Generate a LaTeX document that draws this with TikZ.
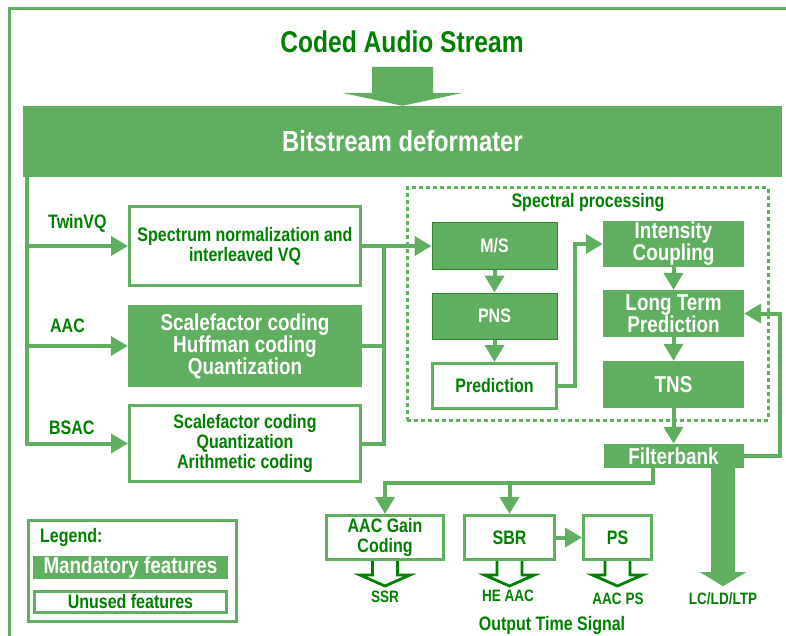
\documentclass[tikz,border=0pt]{standalone}
\usepackage{fontspec}
\setmainfont{Liberation Sans}[FakeStretch=0.82]
\usepackage{tikz}
\usetikzlibrary{
    arrows.meta,
    calc,
    positioning
}
\definecolor{boxgreen}{RGB}{96,175,96}
\definecolor{txtgreen}{RGB}{0,128,0}
\definecolor{edgegreen}{RGB}{45,135,45}
\newcommand{\fsize}[2]{\fontsize{#1}{#2}\selectfont}
\tikzset{
    box/.style={inner sep=0pt, align=center, font=\bfseries\fsize{19.5}{20}},
    fullbox/.style={box, fill=boxgreen, text=white},
    emptybox/.style={box, draw=boxgreen, line width=3pt, fill=white, text=txtgreen},
    bigtext/.style={font=\bfseries\fsize{23}{22}},
    tag/.style={inner sep=0pt, text=txtgreen, font=\bfseries\fsize{19.5}{20}},
    smalltag/.style={inner sep=0pt, text=txtgreen, font=\bfseries\fsize{16.5}{17}},
    wire/.style={draw=boxgreen, line width=4pt},
    flow/.style={wire, -{Triangle[length=17pt, width=19pt]}},
    hollow/.style={draw=txtgreen, line width=2.8pt, fill=white},
    specframe/.style={draw=boxgreen, line width=3pt, dash pattern=on 4pt off 3pt, inner sep=0pt}
}

\begin{document}
\begin{tikzpicture}[x=1pt, y=-1pt]
    \useasboundingbox (0,0) rectangle (786,636);
    \draw[boxgreen, line width=3pt] (9,640) -- (9,9) -- (790,9);

    \node[tag, font=\bfseries\fsize{30}{30}] (title) at (402,42) {Coded Audio Stream};
    \node[fullbox, font=\bfseries\fsize{29}{29}, minimum width=759, minimum height=71] (bits) at (402.5,141.5) {Bitstream deformater};
    \fill[boxgreen, shift={(bits.north)}]
        (-30.5,-39) -- (30.5,-39) -- (30.5,-13) -- (60.5,-13) -- (0,0) -- (-60.5,-13) -- (-30.5,-13) -- cycle;

    \node[emptybox, minimum width=231, minimum height=79] (twin) at (245,246) {Spectrum normalization and\\interleaved VQ};
    \node[fullbox, bigtext, minimum width=234, minimum height=82] (aac) at (245,346) {Scalefactor coding\\Huffman coding\\Quantization};
    \node[emptybox, minimum width=231, minimum height=76] (bsac) at (245,443.5) {Scalefactor coding\\Quantization\\Arithmetic coding};
    \node[tag, anchor=west] (twinlbl) at (48,223) {TwinVQ};
    \node[tag, anchor=west] (aaclbl) at (50,326) {AAC};
    \node[tag, anchor=west] (bsaclbl) at (49,428) {BSAC};

    \node[specframe, minimum width=361, minimum height=232] (spec) at (587.5,304) {};
    \node[tag] (speclbl) at (588,203) {Spectral processing};
    \node[fullbox, draw=edgegreen, line width=1pt, minimum width=125, minimum height=46] (ms) at (494.5,246) {M/S};
    \node[fullbox, draw=edgegreen, line width=1pt, minimum width=125, minimum height=46] (pns) at (494.5,316) {PNS};
    \node[emptybox, minimum width=124, minimum height=45] (pred) at (494.5,386) {Prediction};
    \node[fullbox, bigtext, minimum width=141, minimum height=46] (ic) at (673.5,244) {Intensity\\Coupling};
    \node[fullbox, bigtext, minimum width=141, minimum height=47] (ltp) at (673.5,313.5) {Long Term\\Prediction};
    \node[fullbox, bigtext, minimum width=141, minimum height=47] (tns) at (673.5,384.5) {TNS};
    \node[fullbox, bigtext, minimum width=140, minimum height=24] (fb) at (673.5,456) {Filterbank};

    \node[emptybox, minimum width=117, minimum height=44] (gain) at (385,537.5) {AAC Gain\\Coding};
    \node[emptybox, minimum width=90, minimum height=44] (sbr) at (509.5,537.5) {SBR};
    \node[emptybox, minimum width=68, minimum height=44] (ps) at (617.5,537.5) {PS};
    \node[smalltag] (ssr) at (385,597) {SSR};
    \node[smalltag] (heaac) at (508,596) {HE AAC};
    \node[smalltag] (aacps) at (618,599) {AAC PS};
    \node[smalltag] (lc) at (723,599) {LC/LD/LTP};
    \node[tag] (out) at (552,625) {Output Time Signal};

    \node[emptybox, minimum width=208, minimum height=101] (legend) at (132.5,571) {};
    \node[tag, anchor=west] (legendlbl) at (40,537) {Legend:};
    \node[fullbox, bigtext, minimum width=195, minimum height=23] (mand) at (130.5,567.5) {Mandatory features};
    \node[emptybox, minimum width=192, minimum height=21] (unused) at (130.5,602) {Unused features};

    \coordinate (trunk) at (26.5,0);
    \coordinate (join) at (384,0);
    \coordinate (bend) at (575,0);
    \coordinate (back) at (780,0);
    \coordinate (split) at (653,483);

    \draw[flow] (bits.south -| trunk) -- (bsac.west -| trunk) -- (bsac.west);
    \draw[flow] (twin.west -| trunk) -- (twin.west);
    \draw[flow] (aac.west -| trunk) -- (aac.west);
    \draw[wire] (bsac.east) -- (bsac.east -| join) -- (twin.east -| join);
    \draw[wire] (aac.east) -- (aac.east -| join);
    \draw[flow] (twin.east) -- (ms.west);
    \draw[flow] (ms) -- (pns);
    \draw[flow] (pns) -- (pred);
    \draw[flow] (pred.east) -- (pred.east -| bend) -- (bend |- ic.west) -- (ic.west);
    \draw[flow] (ic) -- (ltp);
    \draw[flow] (ltp) -- (tns);
    \draw[flow] (tns) -- (fb);
    \draw[flow] (fb.east) -- (fb.east -| back) -- (back |- ltp.east) -- (ltp.east);
    \draw[flow] (fb.south -| split) -- (split) -- (split -| gain.north) -- (gain.north);
    \draw[flow] (split -| sbr.north) -- (sbr.north);
    \draw[flow] (sbr) -- (ps);
    \fill[boxgreen, shift={(fb.south -| lc.north)}]
        (-12,0) -- (12,0) -- (12,104) -- (23,104) -- (0,118) -- (-23,104) -- (-12,104) -- cycle;
    \foreach \b in {gain, sbr, ps}
        \draw[hollow, shift={(\b.south)}] (-12.5,0) -- (-12.5,14) -- (-25,14) -- (0,25) -- (25,14) -- (12.5,14) -- (12.5,0);
\end{tikzpicture}
\end{document}
